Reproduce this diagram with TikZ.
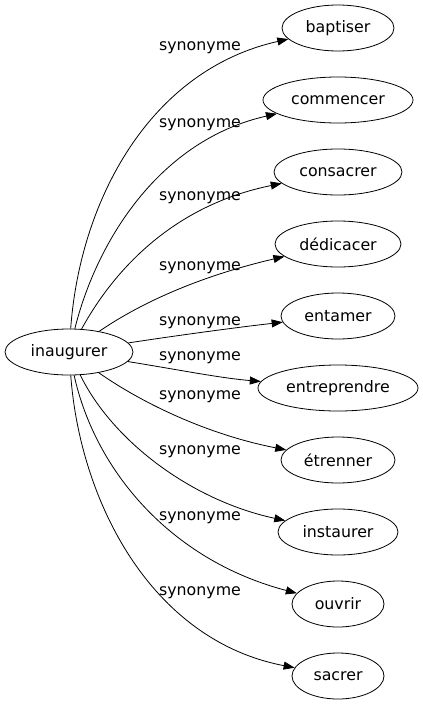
\documentclass[tikz,border=0pt]{standalone}
\usepackage{fontspec}
\setmainfont{DejaVu Sans}
\usetikzlibrary{shapes.geometric,arrows.meta}
\begin{document}
\begin{tikzpicture}[x=1pt,y=-1pt,
  word/.style={ellipse,draw,line width=0.8pt,inner sep=0pt,minimum height=46pt,font=\fontsize{15.8}{18}\selectfont},
  lab/.style={inner sep=0pt,font=\fontsize{15.8}{18}\selectfont},
  edge/.style={line width=0.8pt,-{Triangle[length=11pt,width=8pt]}}]
\useasboundingbox (0,0) rectangle (423,707);
\node[word,minimum width=128pt] (i) at (69,352) {inaugurer};
\node[word,minimum width=112pt] (n1) at (338,28) {baptiser};
\node[word,minimum width=150pt] (n2) at (338,100) {commencer};
\node[word,minimum width=128pt] (n3) at (338,172) {consacrer};
\node[word,minimum width=126pt] (n4) at (338,244) {dédicacer};
\node[word,minimum width=114pt] (n5) at (338,316) {entamer};
\node[word,minimum width=160pt] (n6) at (338,388) {entreprendre};
\node[word,minimum width=114pt] (n7) at (338,460) {étrenner};
\node[word,minimum width=120pt] (n8) at (338,532) {instaurer};
\node[word,minimum width=92pt] (n9) at (338,604) {ouvrir};
\node[word,minimum width=92pt] (n10) at (338,676) {sacrer};
\node[lab] (l1) at (200,48) {synonyme};
\node[lab] (l2) at (200,125) {synonyme};
\node[lab] (l3) at (200,198) {synonyme};
\node[lab] (l4) at (200,268) {synonyme};
\node[lab] (l5) at (200,323) {synonyme};
\node[lab] (l6) at (200,358) {synonyme};
\node[lab] (l7) at (200,397) {synonyme};
\node[lab] (l8) at (200,452) {synonyme};
\node[lab] (l9) at (200,518) {synonyme};
\node[lab] (l10) at (200,593) {synonyme};
\draw[edge] (i) .. controls (80,200) and (150,70) .. (n1);
\draw[edge] (i) .. controls (97,240) and (160,140) .. (n2);
\draw[edge] (i) .. controls (115,268) and (175,205) .. (n3);
\draw[edge] (i) .. controls (145,300) and (205,275) .. (n4);
\draw[edge] (i) .. controls (180,335) and (240,327) .. (n5);
\draw[edge] (i) .. controls (180,370) and (220,378) .. (n6);
\draw[edge] (i) .. controls (145,405) and (210,435) .. (n7);
\draw[edge] (i) .. controls (112,440) and (190,500) .. (n8);
\draw[edge] (i) .. controls (95,470) and (170,560) .. (n9);
\draw[edge] (i) .. controls (80,500) and (150,640) .. (n10);
\end{tikzpicture}
\end{document}
